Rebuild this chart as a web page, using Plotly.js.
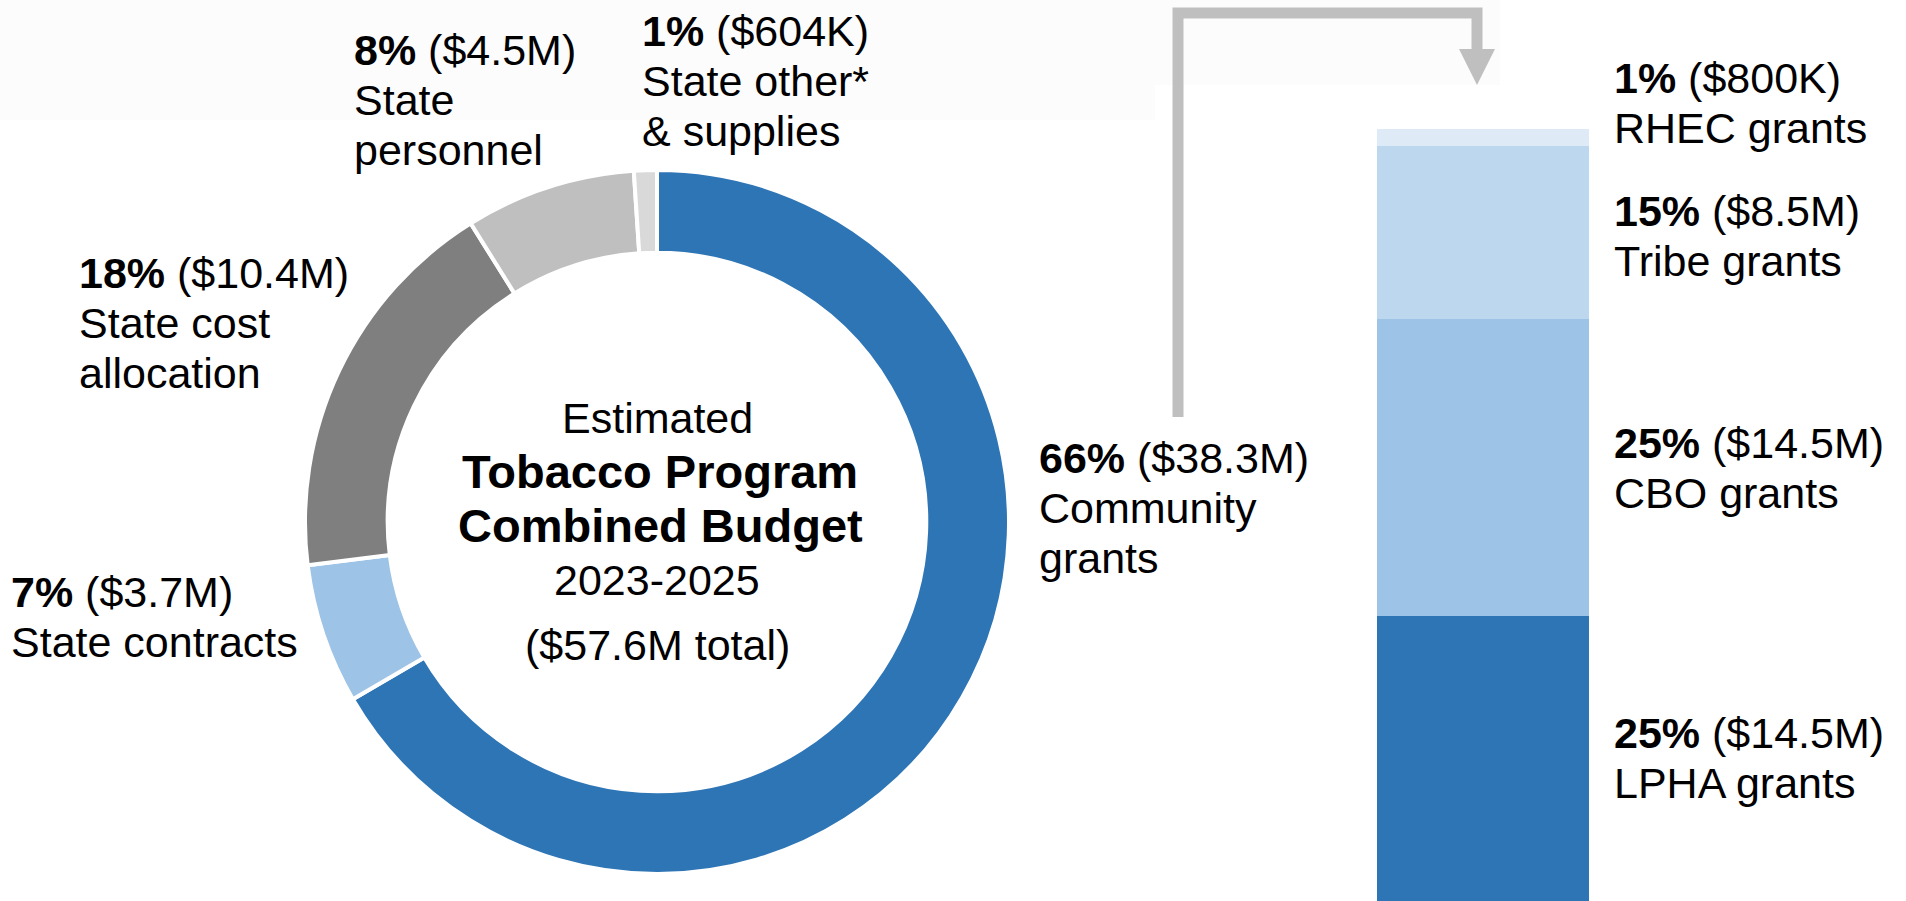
<!DOCTYPE html>
<html>
<head>
<meta charset="utf-8">
<script src="https://cdn.plot.ly/plotly-3.0.1.min.js"></script>
<style>
  html, body { margin: 0; padding: 0; background: #ffffff; }
  #chart { width: 1906px; height: 901px; }
</style>
</head>
<body>
<div id="chart"></div>
<script>
// ---------- Data ----------
const pieLabels = ['Community grants', 'State contracts', 'State cost allocation', 'State personnel', 'State other* & supplies'];
const pieValues = [38.3, 3.7, 10.4, 4.5, 0.604];
const piePct = ['66%', '7%', '18%', '8%', '1%'];
const pieAmt = ['$38.3M', '$3.7M', '$10.4M', '$4.5M', '$604K'];
const pieLines = [['Community', 'grants'], ['State contracts'], ['State cost', 'allocation'], ['State', 'personnel'], ['State other*', '& supplies']];
const pieColors = ['#2E75B6', '#9DC3E6', '#7F7F7F', '#BFBFBF', '#D9D9D9'];

const barLabels = ['LPHA grants', 'CBO grants', 'Tribe grants', 'RHEC grants'];
const barValues = [14.5, 14.5, 8.5, 0.8];
const barPct = ['25%', '25%', '15%', '1%'];
const barAmt = ['$14.5M', '$14.5M', '$8.5M', '$800K'];
const barColors = ['#2E75B6', '#9DC3E6', '#BDD7EE', '#DEEBF7'];

const centerLines = ['Estimated', '<b>Tobacco Program</b>', '<b>Combined Budget</b>', '2023-2025', '($57.6M total)'];

// ---------- Layout helpers (pixel -> paper) ----------
const W = 1906, H = 901;
const px = x => x / W;
const py = y => 1 - y / H;
const FONT = '"Liberation Sans", Arial, Helvetica, sans-serif';
const FS = 43;
const FS_BOLD = 47;
const LINE = 50;

// label anchor positions (left x, first baseline y) in pixels
const pieLabelPos = [[1038, 473], [10, 607], [78, 288], [353, 65], [641, 46]];
const barLabelPos = [[1613, 748], [1613, 458], [1613, 226], [1613, 93]];
const centerBase = [433, 488, 542, 595, 660];
const centerX = [657, 660, 660, 657, 657];

const annotations = [];
function addLine(x, baseline, text, anchor, size) {
  const s = size || FS;
  annotations.push({
    xref: 'paper', yref: 'paper',
    x: px(x), y: py(baseline - 0.347 * s),
    xanchor: anchor, yanchor: 'middle',
    text: text, showarrow: false,
    font: { family: FONT, size: s, color: '#000000' },
    borderpad: 0
  });
}
function addGroup(pos, pct, amt, lines) {
  addLine(pos[0], pos[1], '<b>' + pct + '</b> (' + amt + ')', 'left');
  lines.forEach((t, i) => addLine(pos[0], pos[1] + LINE * (i + 1), t, 'left'));
}
pieLabels.forEach((_, i) => addGroup(pieLabelPos[i], piePct[i], pieAmt[i], pieLines[i]));
barLabels.forEach((lab, i) => addGroup(barLabelPos[i], barPct[i], barAmt[i], [lab]));
centerLines.forEach((t, i) => addLine(centerX[i], centerBase[i], t, 'center', (i === 1 || i === 2) ? FS_BOLD : FS));

// ---------- Traces ----------
const pieTrace = {
  type: 'pie',
  labels: pieLabels,
  values: pieValues,
  sort: false,
  direction: 'clockwise',
  rotation: 0,
  hole: 0.765,
  textinfo: 'none',
  hoverinfo: 'skip',
  marker: { colors: pieColors, line: { color: '#ffffff', width: 4 } },
  domain: { x: [px(657 - 352), px(657 + 352)], y: [py(522 + 352), py(522 - 352)] },
  showlegend: false
};

const barTraces = barLabels.map((lab, i) => ({
  type: 'bar',
  x: [0],
  y: [barValues[i]],
  name: lab,
  width: 1,
  marker: { color: barColors[i], line: { width: 0 } },
  hoverinfo: 'skip',
  xaxis: 'x', yaxis: 'y',
  showlegend: false
}));

// ---------- Arrow connector & faint header band ----------
const lineColor = '#BFBFBF';
const shapes = [
  {
    type: 'rect', xref: 'paper', yref: 'paper', layer: 'below',
    x0: 0, x1: px(1500), y0: py(85), y1: 1,
    fillcolor: '#FCFCFC', line: { width: 0 }
  },
  {
    type: 'rect', xref: 'paper', yref: 'paper', layer: 'below',
    x0: 0, x1: px(1155), y0: py(120), y1: py(85),
    fillcolor: '#FCFCFC', line: { width: 0 }
  },
  {
    type: 'path', xref: 'paper', yref: 'paper',
    path: `M ${px(1178)},${py(417)} L ${px(1178)},${py(13)} L ${px(1477)},${py(13)} L ${px(1477)},${py(52)}`,
    line: { color: lineColor, width: 11 }
  },
  {
    type: 'path', xref: 'paper', yref: 'paper',
    path: `M ${px(1459)},${py(49)} L ${px(1495)},${py(49)} L ${px(1477)},${py(85)} Z`,
    fillcolor: lineColor, line: { color: lineColor, width: 0 }
  }
];

const layout = {
  width: W, height: H,
  margin: { l: 0, r: 0, t: 0, b: 0, pad: 0 },
  paper_bgcolor: '#ffffff',
  plot_bgcolor: 'rgba(0,0,0,0)',
  barmode: 'stack',
  bargap: 0,
  showlegend: false,
  xaxis: { domain: [px(1377), px(1589)], range: [-0.5, 0.5], visible: false, fixedrange: true },
  yaxis: { domain: [0, 1], range: [0.56, 44.62], visible: false, fixedrange: true },
  annotations: annotations,
  shapes: shapes,
  font: { family: FONT }
};

Plotly.newPlot('chart', [pieTrace].concat(barTraces), layout, { staticPlot: true, displayModeBar: false });
</script>
</body>
</html>
